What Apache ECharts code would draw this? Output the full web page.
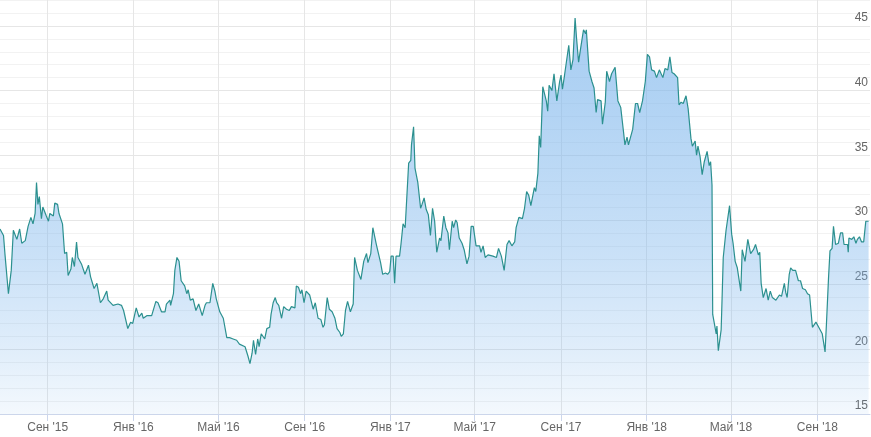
<!DOCTYPE html>
<html>
<head>
<meta charset="utf-8">
<script src="https://cdn.jsdelivr.net/npm/echarts@6/dist/echarts.min.js"></script>
<style>
  html, body { margin: 0; padding: 0; background: #ffffff; }
  #chart { width: 871px; height: 437px; }
</style>
</head>
<body>
<div id="chart"></div>
<script>
// Observation dates as day offsets from startDate, and the price at each date
const startDate = '2015-06-25';
const dayOffsets = [
  0, 5, 7, 12, 16, 19, 24, 28, 31, 36,
  40, 44, 47, 50, 52, 54, 56, 59, 61, 66,
  69, 71, 76, 78, 82, 84, 86, 89, 92, 95,
  97, 101, 103, 106, 109, 111, 116, 121, 126, 129,
  134, 138, 143, 147, 152, 154, 161, 168, 173, 176,
  182, 186, 189, 194, 198, 202, 204, 209, 216, 222,
  225, 230, 235, 237, 242, 243, 247, 249, 252, 255,
  258, 263, 266, 268, 271, 275, 279, 283, 288, 292,
  294, 299, 303, 306, 308, 313, 318, 323, 327, 332,
  337, 341, 349, 353, 356, 359, 361, 364, 367, 369,
  372, 377, 380, 384, 386, 389, 392, 394, 397, 401,
  404, 408, 412, 415, 420, 422, 425, 428, 430, 433,
  436, 441, 446, 449, 453, 457, 460, 462, 466, 469,
  473, 477, 480, 484, 486, 489, 492, 495, 499, 503,
  505, 509, 511, 514, 518, 522, 524, 528, 531, 536,
  538, 542, 545, 549, 552, 555, 557, 560, 562, 564,
  569, 571, 574, 577, 582, 585, 586, 589, 591, 593,
  595, 599, 601, 604, 607, 610, 613, 616, 619, 622,
  626, 628, 632, 635, 638, 640, 644, 646, 649, 651,
  654, 658, 661, 665, 668, 671, 674, 678, 683, 685,
  688, 691, 695, 697, 702, 707, 710, 714, 716, 718,
  722, 725, 729, 733, 735, 739, 744, 747, 750, 753,
  756, 761, 763, 766, 768, 770, 773, 775, 778, 780,
  782, 786, 789, 793, 797, 799, 801, 804, 806, 810,
  813, 816, 819, 821, 824, 827, 831, 834, 835, 839,
  843, 846, 849, 851, 856, 858, 862, 864, 868, 871,
  876, 880, 884, 888, 890, 893, 895, 898, 901, 905,
  908, 911, 915, 919, 922, 925, 928, 932, 935, 939,
  941, 944, 947, 951, 954, 957, 960, 965, 967, 970,
  973, 977, 980, 984, 986, 990, 992, 994, 997, 1000,
  1003, 1007, 1010, 1012, 1014, 1015, 1017, 1020, 1021, 1023,
  1027, 1028, 1030, 1034, 1036, 1039, 1042, 1044, 1047, 1050,
  1055, 1057, 1061, 1065, 1069, 1073, 1076, 1080, 1082, 1084,
  1087, 1091, 1094, 1097, 1100, 1105, 1110, 1113, 1117, 1119,
  1121, 1124, 1126, 1129, 1133, 1137, 1140, 1143, 1147, 1150,
  1153, 1157, 1162, 1166, 1171, 1175, 1177, 1180, 1182, 1185,
  1187, 1190, 1194, 1197, 1200, 1202, 1207, 1208, 1209, 1213,
  1216, 1219, 1221, 1224, 1227, 1230, 1233, 1237
];
const prices = [
  29.3, 28.8, 27.4, 24.3, 26.1, 29.2, 28.5, 29.3, 28.2, 28.4,
  29.5, 30.2, 29.7, 30.5, 32.9, 31.2, 31.8, 30.1, 31.0, 30.3,
  29.9, 30.5, 30.3, 31.3, 31.2, 30.5, 30.6, 29.7, 27.4, 27.5,
  25.7, 26.2, 27.1, 26.4, 28.3, 27.1, 26.6, 25.8, 26.5, 25.6,
  24.7, 25.1, 23.6, 23.9, 24.5, 23.8, 23.4, 23.5, 23.4, 23.0,
  21.6, 22.1, 22.0, 23.2, 22.5, 22.8, 22.4, 22.6, 22.6, 23.7,
  23.6, 22.9, 22.9, 23.5, 23.8, 23.4, 24.3, 26.1, 27.1, 26.8,
  25.3, 24.9, 24.3, 24.6, 23.8, 23.9, 23.0, 23.5, 22.6, 23.4,
  23.6, 23.6, 25.1, 24.5, 23.9, 22.9, 22.4, 20.9, 20.9, 20.8,
  20.7, 20.4, 20.2, 19.5, 18.9, 19.7, 20.7, 19.6, 20.8, 20.2,
  21.2, 20.8, 21.6, 21.7, 22.7, 23.6, 24.0, 23.6, 23.4, 22.4,
  23.3, 23.1, 23.0, 23.3, 23.2, 24.9, 24.8, 24.3, 24.6, 23.6,
  24.5, 24.2, 23.1, 23.6, 22.4, 22.3, 21.7, 21.9, 24.0, 23.1,
  22.9, 22.4, 21.6, 21.3, 21.0, 21.2, 23.0, 23.7, 22.9, 23.5,
  27.1, 26.1, 26.1, 25.4, 26.8, 27.4, 26.7, 27.4, 29.4, 28.1,
  28.1, 26.7, 25.8, 25.9, 25.8, 26.0, 27.2, 27.2, 25.1, 27.2,
  27.2, 28.1, 29.7, 29.4, 34.4, 34.6, 35.8, 37.2, 34.0, 33.9,
  32.9, 30.9, 31.2, 31.7, 30.8, 30.4, 28.8, 30.9, 29.9, 27.5,
  28.6, 28.4, 30.3, 29.4, 29.0, 27.7, 29.9, 29.4, 30.0, 29.8,
  28.6, 28.2, 27.7, 26.6, 27.2, 29.5, 29.5, 28.0, 28.0, 27.5,
  28.0, 27.1, 27.3, 27.2, 27.2, 27.1, 27.8, 27.2, 27.1, 26.1,
  28.1, 28.4, 28.0, 28.3, 29.4, 30.2, 30.1, 30.9, 32.2, 31.9,
  31.1, 32.5, 32.2, 33.6, 36.5, 35.6, 40.3, 40.4, 39.2, 38.4,
  40.4, 40.0, 41.3, 39.2, 40.7, 41.2, 40.1, 41.2, 41.1, 43.5,
  41.6, 42.4, 45.6, 44.1, 42.2, 43.3, 44.7, 44.4, 44.7, 41.5,
  40.7, 40.2, 38.3, 39.3, 39.2, 37.4, 39.1, 41.5, 40.7, 41.3,
  41.8, 39.2, 38.7, 36.8, 35.8, 36.4, 35.8, 36.4, 37.0, 39.0,
  39.0, 38.3, 39.2, 40.7, 42.8, 42.6, 41.6, 41.5, 41.0, 41.6,
  41.7, 41.0, 41.7, 41.6, 42.6, 41.4, 41.3, 41.0, 38.9, 39.1,
  39.0, 39.6, 38.6, 36.3, 35.7, 36.1, 35.0, 35.7, 34.9, 33.5,
  34.5, 35.3, 34.2, 34.5, 32.7, 22.7, 22.8, 21.2, 21.8, 19.9,
  21.5, 23.3, 27.1, 29.2, 29.1, 31.1, 28.9, 28.2, 26.8, 26.3,
  24.5, 27.7, 26.8, 28.5, 27.4, 27.7, 28.1, 27.3, 27.5, 25.1,
  24.0, 24.7, 23.8, 24.5, 24.0, 23.8, 24.2, 24.1, 25.1, 24.4,
  24.0, 25.8, 26.3, 26.1, 26.1, 25.3, 25.3, 24.7, 24.6, 24.3,
  24.2, 21.7, 22.1, 21.7, 21.2, 19.8, 22.0, 25.6, 27.6, 27.8,
  29.5, 28.1, 28.2, 29.0, 29.0, 28.1, 28.1, 27.5, 28.6, 28.5,
  28.7, 28.2, 28.5, 28.7, 28.3, 28.3, 29.9, 29.9
];
const tickDates = ['2015-09-01','2016-01-01','2016-05-01','2016-09-01','2017-01-01',
                   '2017-05-01','2017-09-01','2018-01-01','2018-05-01','2018-09-01'];
const tickLabels = ["Сен '15","Янв '16","Май '16","Сен '16","Янв '17",
                    "Май '17","Сен '17","Янв '18","Май '18","Сен '18"];
const axisStart = '2015-06-25';
const axisEnd = '2018-11-15';
const yMin = 15, yMax = 47;

const DAY = 86400000;
const t0 = Date.parse(startDate);
const n = Math.min(dayOffsets.length, prices.length);
const seriesData = [];
for (let i = 0; i < n; i++) seriesData.push([t0 + dayOffsets[i] * DAY, prices[i]]);
const tickTimes = tickDates.map(d => Date.parse(d));
const labelMap = {};
tickTimes.forEach((t, i) => { labelMap[t] = tickLabels[i]; });

const font = 'Liberation Sans, Arial, sans-serif';
const chart = echarts.init(document.getElementById('chart'), null, { renderer: 'canvas' });
chart.setOption({
  animation: false,
  backgroundColor: '#ffffff',
  grid: { left: 0, right: 0, top: -2, bottom: 23, containLabel: false },
  xAxis: {
    type: 'value',
    min: Date.parse(axisStart),
    max: Date.parse(axisEnd),
    axisLine: { show: true, lineStyle: { color: '#ccd6eb', width: 1 } },
    axisTick: { show: true, length: 7, customValues: tickTimes, lineStyle: { color: '#ccd6eb' } },
    axisLabel: {
      customValues: tickTimes,
      margin: 8,
      color: '#666666',
      fontSize: 12,
      fontFamily: font,
      formatter: (v) => labelMap[v] || ''
    },
    splitLine: { show: true, lineStyle: { color: '#e6e6e6', width: 1 } }
  },
  yAxis: {
    type: 'value',
    position: 'right',
    min: yMin,
    max: yMax,
    interval: 1,
    axisLine: { show: false },
    axisTick: { show: false },
    axisLabel: {
      inside: true,
      margin: 2,
      color: '#666666',
      fontSize: 12,
      fontFamily: font,
      verticalAlign: 'bottom',
      padding: [0, 0, 2, 0],
      formatter: (v) => (v % 5 === 0 ? String(v) : '')
    },
    splitLine: {
      show: true,
      lineStyle: { color: ['#e6e6e6', '#f2f2f2', '#f2f2f2', '#f2f2f2', '#f2f2f2'], width: 1 }
    }
  },
  series: [{
    type: 'line',
    data: seriesData,
    showSymbol: false,
    symbol: 'none',
    sampling: 'none',
    lineStyle: { color: '#2b908f', width: 1.2 },
    areaStyle: {
      color: new echarts.graphic.LinearGradient(0, 0, 0, 1, [
        { offset: 0, color: 'rgba(124,181,236,0.95)' },
        { offset: 0.2, color: 'rgba(124,181,236,0.86)' },
        { offset: 0.6, color: 'rgba(124,181,236,0.58)' },
        { offset: 0.85, color: 'rgba(124,181,236,0.32)' },
        { offset: 1, color: 'rgba(124,181,236,0.12)' }
      ])
    }
  }]
});
</script>
</body>
</html>
